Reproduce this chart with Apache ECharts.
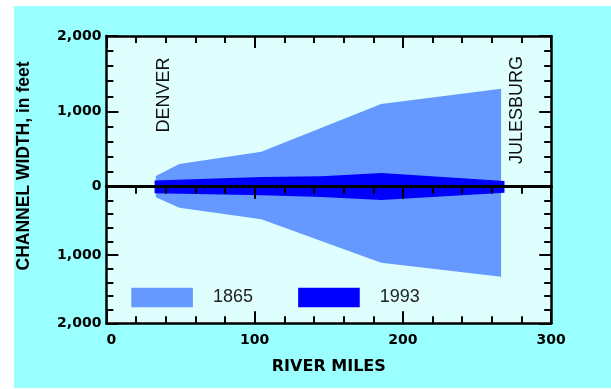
<!DOCTYPE html>
<html>
<head>
<meta charset="utf-8">
<script src="https://cdn.jsdelivr.net/npm/echarts@6/dist/echarts.min.js"></script>
<style>
  html, body { margin: 0; padding: 0; background: #ffffff; }
  #chart { width: 611px; height: 389px; }
</style>
</head>
<body>
<div id="chart"></div>
<script>
// ---- Data (river miles; half channel width in feet, north/south of centre line) ----
const miles1865 = [33.3, 49.2, 104.5, 185.3, 266.2];
const north1865 = [142, 301, 465, 1098, 1301];
const south1865 = [155, 307, 478, 1113, 1318];

const miles1993 = [32.5, 105, 145, 185.5, 268.5];
const north1993 = [82, 128, 140, 183, 76];
const south1993 = [97, 125, 150, 195, 88];

const seriesNames = ['1865', '1993'];
const xTicks = [0, 100, 200, 300];
const yTicks = [0, 1000, 2000];
const placeLabels = ['DENVER', 'JULESBURG'];
const yTitle = 'CHANNEL WIDTH, in feet';
const xTitle = 'RIVER MILES';

// ---- Styles ----
const LIGHT = '#6699FF';
const DARK = '#0000FF';
const PLOT_BG = '#DFFFFF';
const OUTER_BG = '#99FFFF';
const BOLD_FONT = 'DejaVu Sans';

function zip(xs, ys) { return xs.map((x, i) => [x, ys[i]]); }
function fmt(v) { return v.toLocaleString('en-US'); }

const chart = echarts.init(document.getElementById('chart'), null, { renderer: 'canvas' });

const lineW = 2.5;
function xAxisCfg(grid, pos, extra) {
  return Object.assign({
    type: 'value', gridIndex: grid, position: pos,
    min: xTicks[0], max: xTicks[xTicks.length - 1], interval: xTicks[1] - xTicks[0],
    axisLine: { show: true, onZero: false, lineStyle: { color: '#000', width: lineW } },
    axisTick: { show: true, inside: true, length: 12, lineStyle: { color: '#000', width: 2 } },
    minorTick: { show: true, splitNumber: 5, length: 7, lineStyle: { color: '#000', width: 2 } },
    axisLabel: { show: false },
    splitLine: { show: false }
  }, extra || {});
}
function yAxisCfg(grid, pos, inverse, labels) {
  return {
    type: 'value', gridIndex: grid, position: pos, inverse: inverse,
    min: yTicks[0], max: yTicks[yTicks.length - 1], interval: yTicks[1] - yTicks[0],
    axisLine: { show: true, onZero: false, lineStyle: { color: '#000', width: lineW } },
    axisTick: { show: true, inside: true, length: 12, lineStyle: { color: '#000', width: 2 } },
    minorTick: { show: true, splitNumber: 5, length: 7, lineStyle: { color: '#000', width: 2 } },
    axisLabel: {
      show: labels, margin: 5, color: '#000',
      fontFamily: BOLD_FONT, fontWeight: 'bold', fontSize: 14,
      formatter: function (v) { return (inverse && v === 0) ? '' : fmt(v); }
    },
    splitLine: { show: false }
  };
}

function areaSeries(name, color, xi, yi, xs, ys) {
  return {
    name: name, type: 'line', xAxisIndex: xi, yAxisIndex: yi,
    data: zip(xs, ys), symbol: 'none', smooth: false,
    color: color, itemStyle: { color: color },
    lineStyle: { width: 0, opacity: 0 },
    areaStyle: { color: color, opacity: 1 },
    silent: true, animation: false
  };
}

const option = {
  backgroundColor: OUTER_BG,
  animation: false,
  grid: [
    { left: 106.4, right: 59.8, top: 36, height: 150.7, show: true, backgroundColor: PLOT_BG, borderWidth: 0, containLabel: false, outerBoundsMode: 'none' },
    { left: 106.4, right: 59.8, top: 186.7, height: 136.6, show: true, backgroundColor: PLOT_BG, borderWidth: 0, containLabel: false, outerBoundsMode: 'none' }
  ],
  xAxis: [
    xAxisCfg(0, 'top'),
    xAxisCfg(1, 'top', { z: 10, axisLine: { show: true, onZero: false, lineStyle: { color: '#000', width: 3 } } }),
    xAxisCfg(1, 'bottom', {
      axisLabel: {
        show: true, margin: 10, color: '#000', fontFamily: BOLD_FONT, fontWeight: 'bold', fontSize: 14,
        alignMinLabel: 'left', formatter: function (v) { return String(v); }
      },
      name: xTitle, nameLocation: 'middle', nameGap: 44, nameMoveOverlap: false,
      nameTextStyle: { fontFamily: BOLD_FONT, fontWeight: 'bold', fontSize: 16, color: '#000', verticalAlign: 'middle' }
    })
  ],
  yAxis: [
    yAxisCfg(0, 'left', false, true),
    yAxisCfg(0, 'right', false, false),
    yAxisCfg(1, 'left', true, true),
    yAxisCfg(1, 'right', true, false)
  ],
  legend: {
    show: true, data: seriesNames, left: 131.3, top: 287.7, padding: 0,
    itemWidth: 61.6, itemHeight: 19.6, itemGap: 45.2, icon: 'rect', selectedMode: false,
    textStyle: { fontFamily: 'Liberation Sans', fontSize: 18, color: '#222', padding: [0, 0, 0, 15] }
  },
  series: [
    areaSeries(seriesNames[0], LIGHT, 0, 0, miles1865, north1865),
    areaSeries(seriesNames[0], LIGHT, 2, 2, miles1865, south1865),
    areaSeries(seriesNames[1], DARK, 0, 0, miles1993, north1993),
    areaSeries(seriesNames[1], DARK, 2, 2, miles1993, south1993)
  ],
  graphic: [
    { type: 'rect', shape: { x: 0, y: 0, width: 14, height: 389 }, style: { fill: '#ffffff' }, silent: true },
    { type: 'rect', shape: { x: 0, y: 0, width: 611, height: 6 }, style: { fill: '#ffffff' }, silent: true },
    { type: 'rect', shape: { x: 0, y: 388, width: 611, height: 1 }, style: { fill: '#ffffff' }, silent: true },
    { type: 'text', x: 24, y: 166, rotation: Math.PI / 2,
      style: { text: yTitle, font: 'bold 17.5px "Liberation Sans"', fill: '#000', align: 'center', verticalAlign: 'middle', textAlign: 'center', textVerticalAlign: 'middle' } },
    { type: 'text', x: 163.8, y: 95, rotation: Math.PI / 2, z: 5,
      style: { text: placeLabels[0], font: '18px "Liberation Sans"', fill: '#111', align: 'center', verticalAlign: 'middle', textAlign: 'center', textVerticalAlign: 'middle' } },
    { type: 'text', x: 517.5, y: 110, rotation: Math.PI / 2, z: 5,
      style: { text: placeLabels[1], font: '18px "Liberation Sans"', fill: '#111', align: 'center', verticalAlign: 'middle', textAlign: 'center', textVerticalAlign: 'middle' } }
  ]
};

chart.setOption(option);
</script>
</body>
</html>
